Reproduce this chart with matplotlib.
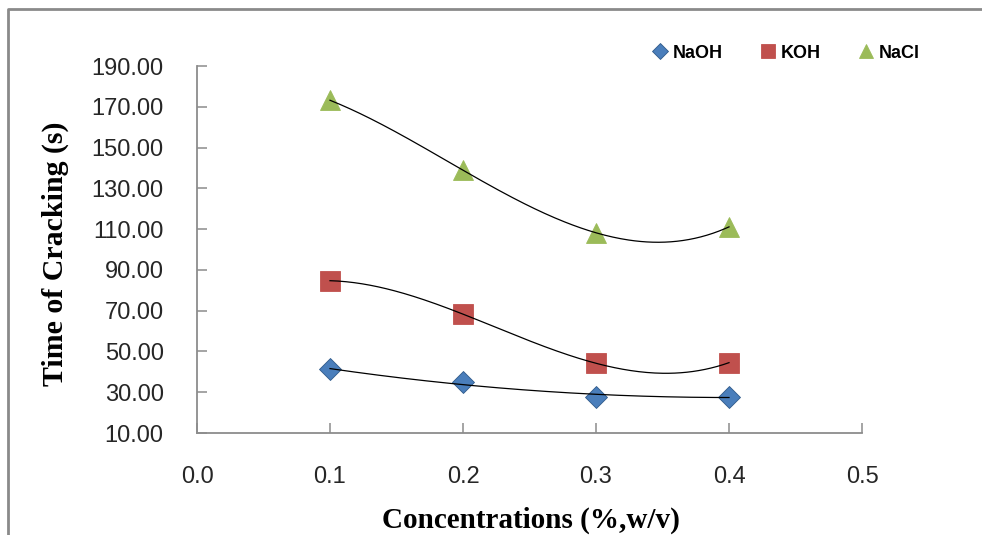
import matplotlib.pyplot as plt
import numpy as np
from matplotlib.lines import Line2D

# concentrations (%, w/v)
conc = np.array([0.1, 0.2, 0.3, 0.4])

# time of cracking (s)
naoh = np.array([41.2, 34.9, 27.8, 27.8])
koh = np.array([84.7, 68.3, 44.2, 44.5])
nacl = np.array([173.2, 138.9, 108.2, 111.1])

xticks = [0.0, 0.1, 0.2, 0.3, 0.4, 0.5]
yticks = [10, 30, 50, 70, 90, 110, 130, 150, 170, 190]

fig = plt.figure(figsize=(9.82, 5.35), dpi=100)
ax = fig.add_axes([197 / 982, 1 - 433 / 535, (862 - 197) / 982, (433 - 66) / 535])

# name, values, marker, size, face, edge, trendline order
series = [
    ('NaOH', naoh, 'D', 11, '#4a7ebb', '#2f5a8a', 2),
    ('KOH', koh, 's', 15, '#c0504d', '#c0504d', 3),
    ('NaCl', nacl, '^', 14.5, '#9bbb59', '#9bbb59', 3),
]

xs = np.linspace(conc.min(), conc.max(), 200)
for name, vals, mk, ms, fc, ec, deg in series:
    ax.plot(conc, vals, linestyle='None', marker=mk, markersize=ms,
            markerfacecolor=fc, markeredgecolor=ec, markeredgewidth=0.6,
            label=name, zorder=2)
    # polynomial trendline (Excel-style)
    coef = np.polyfit(conc, vals, deg)
    ax.plot(xs, np.polyval(coef, xs), color='black', linewidth=0.9, zorder=3)

ax.set_xlim(0, 0.5)
ax.set_ylim(10, 190)
ax.set_xticks(xticks)
ax.set_xticklabels(['%.1f' % v for v in xticks])
ax.set_yticks(yticks)
ax.set_yticklabels(['%.2f' % v for v in yticks])

for side in ['top', 'right']:
    ax.spines[side].set_visible(False)
for side in ['left', 'bottom']:
    ax.spines[side].set_color('#8c8c8c')
    ax.spines[side].set_linewidth(1.3)

ax.tick_params(axis='both', direction='in', length=7, width=1.1, color='#8c8c8c',
               labelsize=17, labelcolor='#262626')
ax.tick_params(axis='y', pad=24)
ax.tick_params(axis='x', pad=24)
for lab in ax.get_xticklabels() + ax.get_yticklabels():
    lab.set_family('Liberation Sans')

fig.text(55 / 982, 1 - 254 / 535, 'Time of Cracking (s)', rotation=90,
         ha='center', va='center', family='Liberation Serif', weight='bold', fontsize=21.5)
fig.text(531 / 982, 1 - 520 / 535, 'Concentrations (%,w/v)',
         ha='center', va='center', family='Liberation Serif', weight='bold', fontsize=21)

leg = ax.legend(loc='center left', bbox_to_anchor=(655 / 982, 1 - 53 / 535),
                bbox_transform=fig.transFigure, ncol=3, frameon=False,
                prop={'family': 'Liberation Sans', 'size': 13, 'weight': 'bold'},
                handlelength=0.6, handletextpad=0.4, columnspacing=2.2,
                markerscale=0.7, borderaxespad=0, borderpad=0)

# outer chart border (left and top)
fig.add_artist(Line2D([8 / 982, 8 / 982, 1.0], [0.0, 1 - 9 / 535, 1 - 9 / 535],
                      transform=fig.transFigure, color='#8a8a8a', linewidth=2.0))

fig.savefig('out.png', dpi=100)
